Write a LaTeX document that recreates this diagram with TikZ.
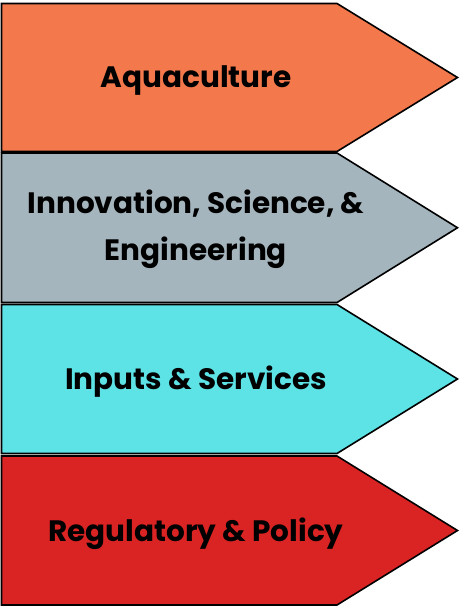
\documentclass[tikz,border=0pt]{standalone}
\usepackage{fontspec}
\setmainfont{Poppins}
\definecolor{cOrange}{HTML}{F3784C}
\definecolor{cGray}{HTML}{A5B5BE}
\definecolor{cCyan}{HTML}{5DE2E6}
\definecolor{cRed}{HTML}{DA2424}
\begin{document}
\begin{tikzpicture}[x=1pt,y=-1pt,
  arrowshape/.style={draw=black,line width=1.6pt,line join=miter},
  lbl/.style={font=\fontsize{29.5}{47}\selectfont\bfseries,text=black,align=center,inner sep=0pt}]
\useasboundingbox (0,0) rectangle (459,607);
\newcommand{\arrowblock}[3]{%
  \fill[#3,arrowshape] (1.5,#1) -- (337,#1) -- (457.5,{(#1+#2)/2}) -- (337,#2) -- (1.5,#2) -- cycle;}
\arrowblock{3.5}{151.5}{cOrange}
\arrowblock{153}{302.5}{cGray}
\arrowblock{304.5}{453.5}{cCyan}
\arrowblock{456}{605}{cRed}
\node[lbl] (a) at (196,81) {Aquaculture};
\node[lbl] (b) at (196,229.5) {Innovation, Science, \&\\Engineering};
\node[lbl] (c) at (196,382) {Inputs \& Services};
\node[lbl] (d) at (196,534) {Regulatory \& Policy};
\end{tikzpicture}
\end{document}
